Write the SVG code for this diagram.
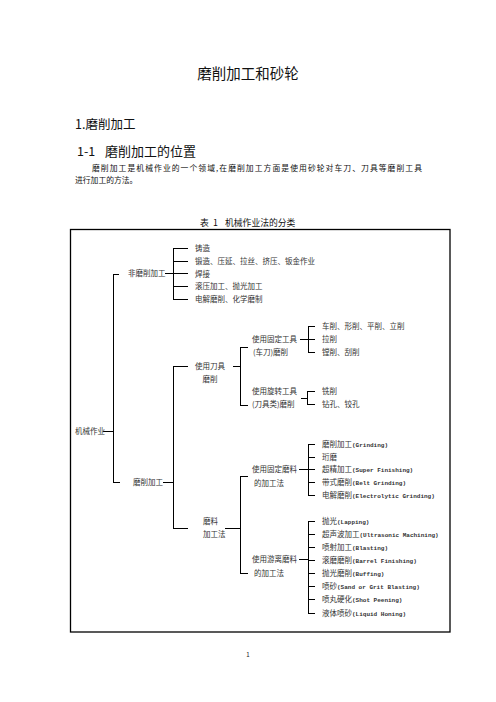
<svg xmlns="http://www.w3.org/2000/svg" width="496" height="702" viewBox="0 0 496 702">
<style>
text{font-family:"Noto Sans CJK SC","Noto Sans",sans-serif;fill:#111}
.t{font-size:7.5px;fill:#333}
.m{font-family:"Liberation Mono",monospace;font-weight:bold;font-size:6px}
.c line{stroke:#000;stroke-width:1}
</style>
<rect width="496" height="702" fill="#fff"/>
<g id="header">
<text x="248" y="79" font-size="14.5" text-anchor="middle">磨削加工和砂轮</text>
<text x="75" y="129" font-size="12.5">1.磨削加工</text>
<text x="77" y="155.8" font-size="12.5">1-1</text>
<text x="105" y="155.8" font-size="13">磨削加工的位置</text>
<text x="92" y="171" font-size="7.8" textLength="330">磨削加工是机械作业的一个领域,在磨削加工方面是使用砂轮对车刀、刀具等磨削工具</text>
<text x="75" y="182.5" font-size="7.8">进行加工的方法。</text>
<text x="200" y="226.3" font-size="8.8">表</text>
<text x="213" y="226.3" font-size="8.8">1</text>
<text x="225" y="226.3" font-size="8.8">机械作业法的分类</text>
<text x="248" y="657" font-size="6" text-anchor="middle">1</text>
</g>
<rect id="frame" x="70.5" y="229.5" width="379.5" height="402.5" fill="none" stroke="#000" stroke-width="1.3"/>
<g class="c" id="connectors">
<line x1="103" y1="431.5" x2="113.5" y2="431.5"/>
<line x1="113.5" y1="274" x2="113.5" y2="482.5"/>
<line x1="113" y1="274.5" x2="119" y2="274.5"/>
<line x1="113" y1="482.5" x2="120" y2="482.5"/>
<line x1="165" y1="273.5" x2="173.5" y2="273.5"/>
<line x1="173.5" y1="248" x2="173.5" y2="300"/>
<line x1="173" y1="248.5" x2="188" y2="248.5"/>
<line x1="173" y1="261.5" x2="188" y2="261.5"/>
<line x1="173" y1="273.5" x2="188" y2="273.5"/>
<line x1="173" y1="286.5" x2="188" y2="286.5"/>
<line x1="173" y1="299.5" x2="188" y2="299.5"/>
<line x1="163" y1="482.5" x2="173.5" y2="482.5"/>
<line x1="173.5" y1="366" x2="173.5" y2="529"/>
<line x1="173" y1="366.5" x2="188" y2="366.5"/>
<line x1="173" y1="528.5" x2="188" y2="528.5"/>
<line x1="233" y1="366.5" x2="240.5" y2="366.5"/>
<line x1="240.5" y1="347" x2="240.5" y2="405.5"/>
<line x1="240" y1="347.5" x2="248" y2="347.5"/>
<line x1="240" y1="405.5" x2="248" y2="405.5"/>
<line x1="300" y1="339.5" x2="308.5" y2="339.5"/>
<line x1="308.5" y1="326" x2="308.5" y2="353"/>
<line x1="308" y1="326.5" x2="315" y2="326.5"/>
<line x1="308" y1="339.5" x2="315" y2="339.5"/>
<line x1="308" y1="352.5" x2="315" y2="352.5"/>
<line x1="301" y1="398.5" x2="307.5" y2="398.5"/>
<line x1="307.5" y1="391" x2="307.5" y2="405"/>
<line x1="307" y1="391.5" x2="315" y2="391.5"/>
<line x1="307" y1="404.5" x2="315" y2="404.5"/>
<line x1="225" y1="528.5" x2="240.5" y2="528.5"/>
<line x1="240.5" y1="476" x2="240.5" y2="574"/>
<line x1="240" y1="476.5" x2="248" y2="476.5"/>
<line x1="240" y1="573.5" x2="248" y2="573.5"/>
<line x1="299" y1="469.5" x2="308.5" y2="469.5"/>
<line x1="308.5" y1="444" x2="308.5" y2="496"/>
<line x1="308" y1="444.5" x2="315" y2="444.5"/>
<line x1="308" y1="457.5" x2="315" y2="457.5"/>
<line x1="308" y1="469.5" x2="315" y2="469.5"/>
<line x1="308" y1="482.5" x2="315" y2="482.5"/>
<line x1="308" y1="495.5" x2="315" y2="495.5"/>
<line x1="299" y1="559.5" x2="308.5" y2="559.5"/>
<line x1="308.5" y1="521" x2="308.5" y2="614"/>
<line x1="308" y1="521.5" x2="315" y2="521.5"/>
<line x1="308" y1="534.5" x2="315" y2="534.5"/>
<line x1="308" y1="547.5" x2="315" y2="547.5"/>
<line x1="308" y1="560.5" x2="315" y2="560.5"/>
<line x1="308" y1="573.5" x2="315" y2="573.5"/>
<line x1="308" y1="586.5" x2="315" y2="586.5"/>
<line x1="308" y1="599.5" x2="315" y2="599.5"/>
<line x1="308" y1="613.5" x2="315" y2="613.5"/>
</g>
<g id="n-root"><text class="t" x="75" y="434.3">机械作业</text></g>
<g id="n-nongrind"><text class="t" x="128" y="276.3">非磨削加工</text></g>
<g id="n-cast"><text class="t" x="195" y="251">铸造</text></g>
<g id="n-forge"><text class="t" x="195" y="264">锻造、压延、拉丝、挤压、钣金作业</text></g>
<g id="n-weld"><text class="t" x="195" y="276.5">焊接</text></g>
<g id="n-roll"><text class="t" x="195" y="289">滚压加工、抛光加工</text></g>
<g id="n-echem"><text class="t" x="195" y="302">电解磨削、化学磨制</text></g>
<g id="n-grind"><text class="t" x="133" y="485">磨削加工</text></g>
<g id="n-cutting"><text class="t" x="210" y="369" text-anchor="middle">使用刀具</text><text class="t" x="210" y="382" text-anchor="middle">磨削</text></g>
<g id="n-fixedtool"><text class="t" x="252" y="342">使用固定工具</text><text class="t" x="253" y="355">(车刀)磨削</text></g>
<g id="n-turn"><text class="t" x="322" y="329">车削、形削、平削、立削</text></g>
<g id="n-broach"><text class="t" x="322" y="342">拉削</text></g>
<g id="n-bore"><text class="t" x="322" y="355">镗削、刮削</text></g>
<g id="n-rottool"><text class="t" x="252" y="394">使用旋转工具</text><text class="t" x="252" y="407">(刀具类)磨削</text></g>
<g id="n-mill"><text class="t" x="322" y="394">铣削</text></g>
<g id="n-drill"><text class="t" x="322" y="407">钻孔、铰孔</text></g>
<g id="n-abrasive"><text class="t" x="203" y="524">磨料</text><text class="t" x="203" y="537">加工法</text></g>
<g id="n-fixedabr"><text class="t" x="252" y="472">使用固定磨料</text><text class="t" x="254" y="486">的加工法</text></g>
<g id="n-g1"><text class="t" x="322" y="447">磨削加工<tspan class="m">(Grinding)</tspan></text></g>
<g id="n-g2"><text class="t" x="322" y="460">珩磨</text></g>
<g id="n-g3"><text class="t" x="322" y="472">超精加工<tspan class="m">(Super Finishing)</tspan></text></g>
<g id="n-g4"><text class="t" x="322" y="485">带式磨削<tspan class="m">(Belt Grinding)</tspan></text></g>
<g id="n-g5"><text class="t" x="322" y="498">电解磨削<tspan class="m">(Electrolytic Grinding)</tspan></text></g>
<g id="n-freeabr"><text class="t" x="252" y="562">使用游离磨料</text><text class="t" x="254" y="576">的加工法</text></g>
<g id="n-f1"><text class="t" x="322" y="524">抛光<tspan class="m">(Lapping)</tspan></text></g>
<g id="n-f2"><text class="t" x="322" y="537">超声波加工<tspan class="m">(Ultrasonic Machining)</tspan></text></g>
<g id="n-f3"><text class="t" x="322" y="550">喷射加工<tspan class="m">(Blasting)</tspan></text></g>
<g id="n-f4"><text class="t" x="322" y="563">滚磨磨削<tspan class="m">(Barrel Finishing)</tspan></text></g>
<g id="n-f5"><text class="t" x="322" y="576">抛光磨削<tspan class="m">(Buffing)</tspan></text></g>
<g id="n-f6"><text class="t" x="322" y="589">喷砂<tspan class="m">(Sand or Grit Blasting)</tspan></text></g>
<g id="n-f7"><text class="t" x="322" y="602">喷丸硬化<tspan class="m">(Shot Peening)</tspan></text></g>
<g id="n-f8"><text class="t" x="322" y="616">液体喷砂<tspan class="m">(Liquid Honing)</tspan></text></g>
</svg>
